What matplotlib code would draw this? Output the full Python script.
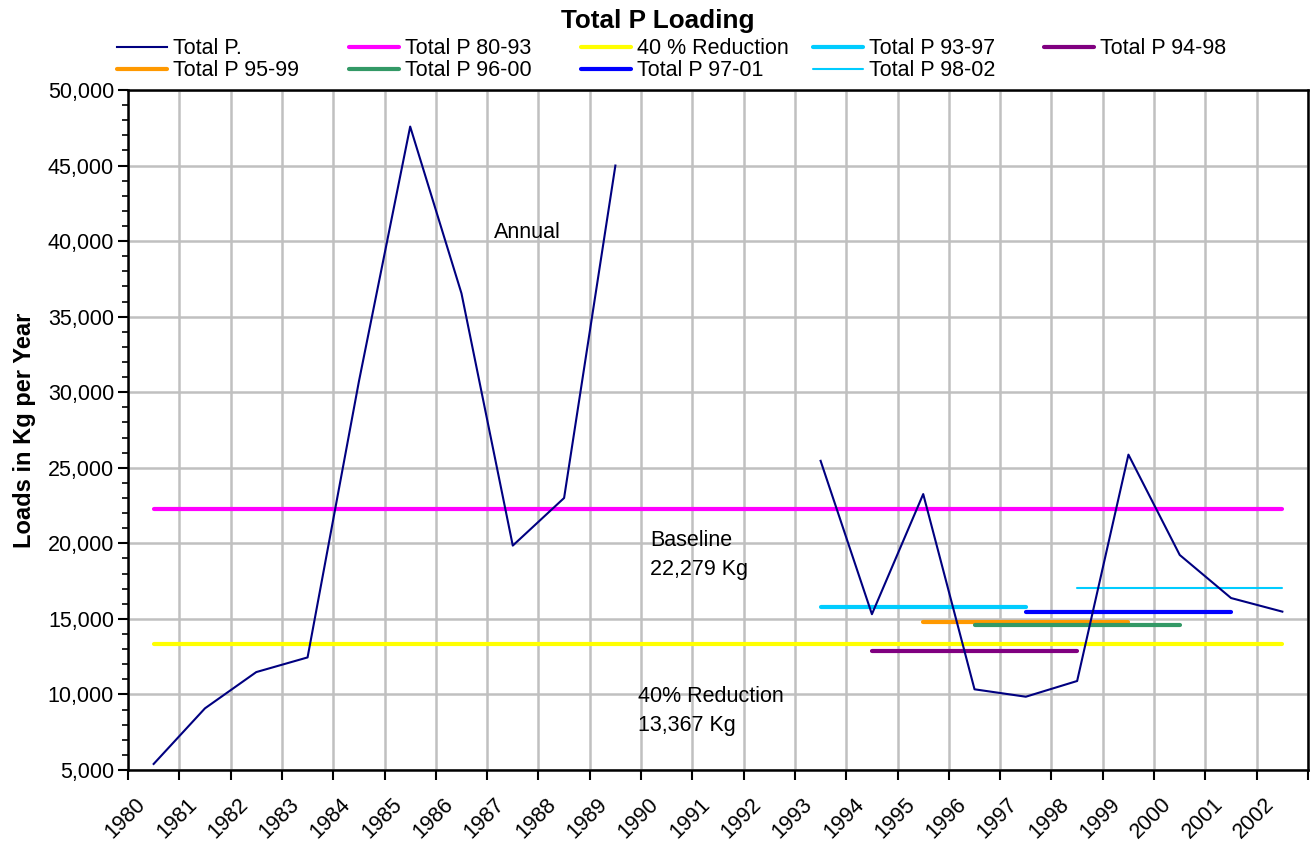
import numpy as np
import matplotlib
matplotlib.use("Agg")
import matplotlib.pyplot as plt
import matplotlib.transforms as mtransforms

plt.rcParams['font.family'] = ['Liberation Sans', 'DejaVu Sans']

# ---------------- data ----------------
years = list(range(1980, 2003))
total_p = [5400, 9080, 11480, 12450, 30700, 47580, 36540, 19850, 23000, 45000,
           np.nan, np.nan, np.nan,
           25460, 15310, 23260, 10340, 9850, 10890, 25870, 19230, 16380, 15480]
baseline_80_93 = 22279
reduction_40 = 13367
# five-year averages: (first year, last year, value)
avg_93_97 = (1993, 1997, 15790)
avg_94_98 = (1994, 1998, 12895)
avg_95_99 = (1995, 1999, 14775)
avg_96_00 = (1996, 2000, 14615)
avg_97_01 = (1997, 2001, 15480)
avg_98_02 = (1998, 2002, 17060)

W, H = 1310, 846
fig = plt.figure(figsize=(W / 100, H / 100), dpi=100)
L, R, T, B = 128, 1308, 90, 770
ax = fig.add_axes([L / W, 1 - B / H, (R - L) / W, (B - T) / H])

n = len(years)
xc = np.arange(n) + 0.5  # category centres


def xpos(y):
    return years.index(y) + 0.5


handles = []
h, = ax.plot(xc, total_p, color='#000080', lw=1.5, label='Total P.', zorder=5)
handles.append(h)
h, = ax.plot([xpos(years[0]), xpos(years[-1])], [baseline_80_93] * 2,
             color='#FF00FF', lw=3, label='Total P 80-93', solid_capstyle='round', zorder=3)
handles.append(h)
h, = ax.plot([xpos(years[0]), xpos(years[-1])], [reduction_40] * 2,
             color='#FFFF00', lw=3, label='40 % Reduction', solid_capstyle='round', zorder=3)
handles.append(h)

avg_specs = [
    (avg_93_97, '#00CCFF', 3, 'Total P 93-97'),
    (avg_94_98, '#800080', 3, 'Total P 94-98'),
    (avg_95_99, '#FF9900', 3, 'Total P 95-99'),
    (avg_96_00, '#339966', 3, 'Total P 96-00'),
    (avg_97_01, '#0000FF', 3, 'Total P 97-01'),
    (avg_98_02, '#00CCFF', 1.5, 'Total P 98-02'),
]
for (y0, y1, v), col, lw, lab in avg_specs:
    h, = ax.plot([xpos(y0), xpos(y1)], [v, v], color=col, lw=lw, label=lab,
                 solid_capstyle='round', zorder=4)
    handles.append(h)

ax.set_xlim(0, n)
ax.set_ylim(5000, 50000)

# x axis: ticks at category boundaries, label at left boundary of each category
ax.set_xticks(np.arange(n + 1))
ax.set_xticklabels([str(y) for y in years] + [''])
ax.tick_params(axis='x', direction='out', length=7, width=1.5, pad=10, labelsize=15.5)
offset = mtransforms.ScaledTranslation(7 / 100, 0, fig.dpi_scale_trans)
for lbl in ax.get_xticklabels():
    lbl.set_rotation(45)
    lbl.set_ha('right')
    lbl.set_va('top')
    lbl.set_rotation_mode('anchor')
    lbl.set_transform(lbl.get_transform() + offset)

# y axis
ax.set_yticks(np.arange(5000, 50001, 5000))
ax.set_yticks(np.arange(5000, 50001, 1000), minor=True)
ax.yaxis.set_major_formatter(matplotlib.ticker.FuncFormatter(lambda v, p: f'{int(v):,}'))
ax.tick_params(axis='y', which='major', direction='out', length=7, width=1.5, labelsize=15.5, pad=3)
ax.tick_params(axis='y', which='minor', direction='out', length=4, width=1.2)

ax.grid(True, which='major', color='#C0C0C0', lw=1.8, zorder=0)
ax.set_axisbelow(True)
for s in ax.spines.values():
    s.set_color('black')
    s.set_linewidth(1.8)

ax.set_ylabel('Loads in Kg per Year', fontsize=17, fontweight='bold')
ax.yaxis.set_label_coords((36 - L) / (R - L), 0.5)

# annotations
ax.text(7.13, 40600, 'Annual', fontsize=15.5, ha='left', va='center')
ax.text(10.18, 19260, 'Baseline\n22,279 Kg', fontsize=15.5, ha='left', va='center', linespacing=1.5)
ax.text(9.94, 8900, '40% Reduction\n13,367 Kg', fontsize=15.5, ha='left', va='center', linespacing=1.5)

fig.text(658 / W, 1 - 21 / H, 'Total P Loading', fontsize=18.8, fontweight='bold',
         ha='center', va='center')

# legend: uniform grid, row-major like the original
col_x = [117, 349, 581, 813, 1044]
row_y = [49, 71]
for i, hd in enumerate(handles):
    r, c = divmod(i, 5)
    fig.legend([hd], [hd.get_label()], loc='center left',
               bbox_to_anchor=(col_x[c] / W, 1 - row_y[r] / H),
               frameon=False, fontsize=15.5, handlelength=2.3, handletextpad=0.3,
               borderpad=0, borderaxespad=0)

fig.savefig('out.png', dpi=100)
